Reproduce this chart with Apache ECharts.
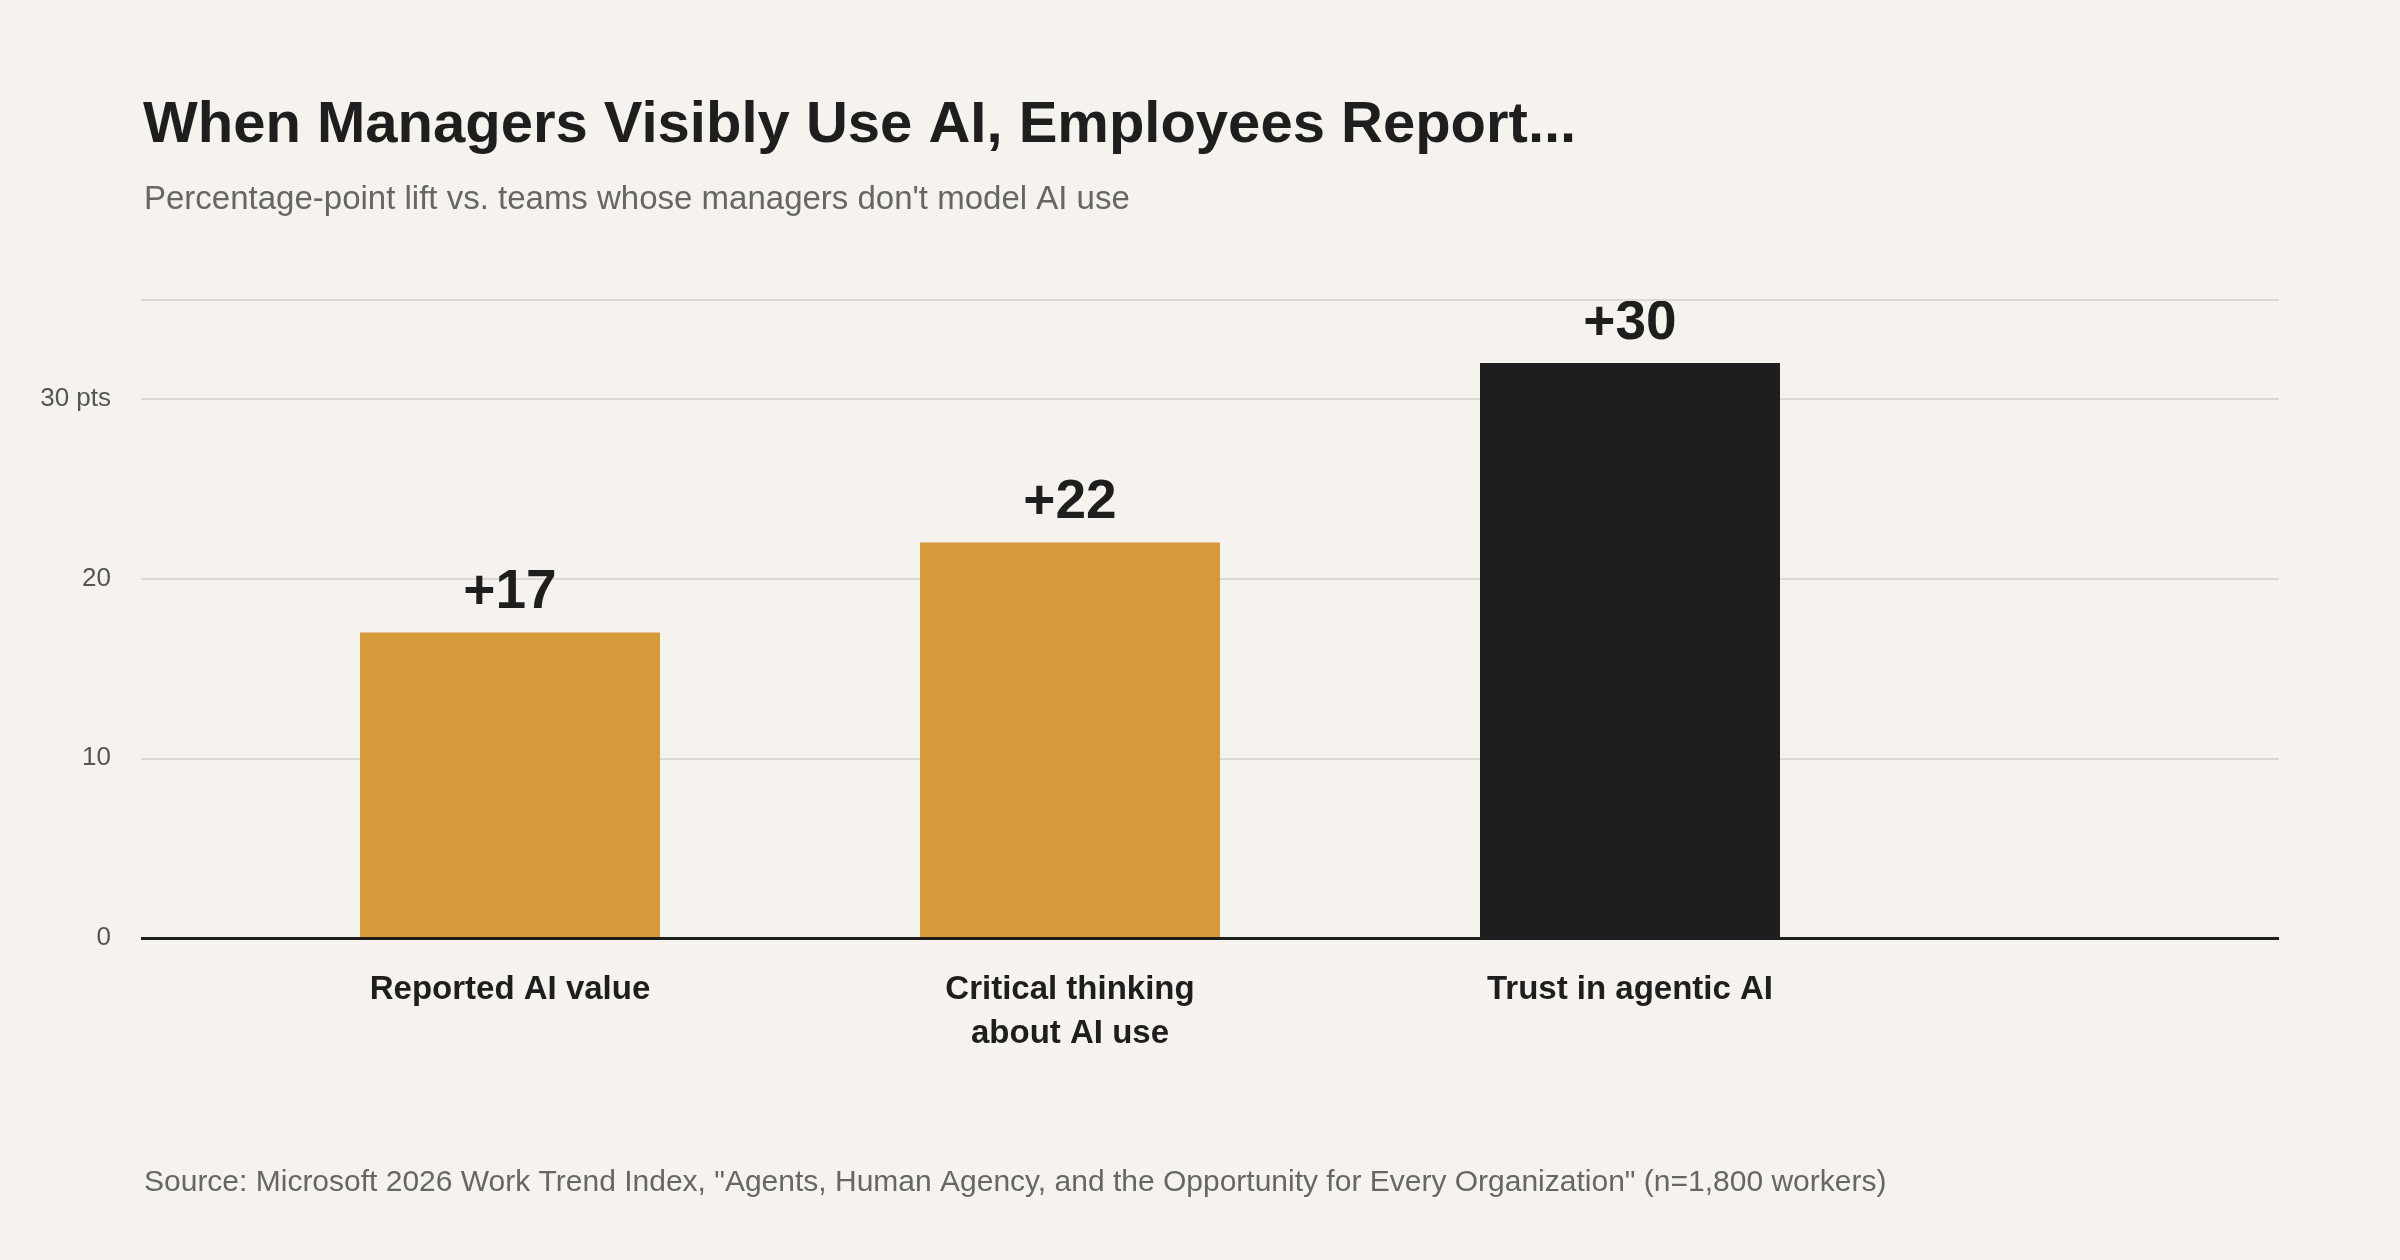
<!DOCTYPE html>
<html><head><meta charset="utf-8">
<script src="https://cdn.jsdelivr.net/npm/echarts@6/dist/echarts.min.js"></script>
<style>html,body{margin:0;background:#F6F3EE}#c{width:2400px;height:1260px}</style>
</head><body><div id="c"></div>
<script>
const categories = ['Reported AI value', 'Critical thinking\nabout AI use', 'Trust in agentic AI'];
const values = [17, 22, 32];
const valueLabels = ['+17', '+22', '+30'];
const barColors = ['#D69A3A', '#D69A3A', '#1E1E1E'];
const yTicks = {0: '0', 10: '10', 20: '20', 30: '30 pts'};
const FONT = 'Liberation Sans, Arial, sans-serif';
const chart = echarts.init(document.getElementById('c'));
chart.setOption({
  backgroundColor: '#F6F3EE',
  textStyle: {fontFamily: FONT},
  title: [
    {text: 'When Managers Visibly Use AI, Employees Report...', left: 138, top: 92,
     textStyle: {fontSize: 58, fontWeight: 'bold', color: '#1E1E1E', fontFamily: FONT}},
    {text: "Percentage-point lift vs. teams whose managers don't model AI use", left: 139, top: 178,
     textStyle: {fontSize: 33, fontWeight: 'normal', color: '#666', fontFamily: FONT}},
    {text: 'Source: Microsoft 2026 Work Trend Index, "Agents, Human Agency, and the Opportunity for Every Organization" (n=1,800 workers)',
     left: 139, top: 1163, textStyle: {fontSize: 30, fontWeight: 'normal', color: '#666', fontFamily: FONT}}
  ],
  grid: [
    {left: 141, right: 121, top: 300, bottom: 322},
    {left: 230, right: 490, top: 300, bottom: 322}
  ],
  xAxis: [
    {gridIndex: 0, type: 'value', min: 0, max: 1, show: false},
    {gridIndex: 1, type: 'category', data: categories,
     axisLine: {show: false}, axisTick: {show: false},
     axisLabel: {fontSize: 33, fontWeight: 'bold', color: '#1E1E1E', margin: 30, lineHeight: 44, fontFamily: FONT}}
  ],
  yAxis: [
    {gridIndex: 0, type: 'value', min: 0, max: 35.5, interval: 10,
     axisLine: {show: false}, axisTick: {show: false},
     splitLine: {lineStyle: {color: '#DCD9D3', width: 2}},
     axisLabel: {fontSize: 26, color: '#555', margin: 30, formatter: v => yTicks[v] ?? '', fontFamily: FONT}},
    {gridIndex: 1, type: 'value', min: 0, max: 35.5, show: false}
  ],
  series: [
    {type: 'line', xAxisIndex: 0, yAxisIndex: 0, data: [], silent: true,
     markLine: {silent: true, symbol: 'none', label: {show: false},
       data: [{yAxis: 35.5, lineStyle: {color: '#DCD9D3', width: 2, type: 'solid'}},
              {yAxis: 0, lineStyle: {color: '#1E1E1E', width: 3, type: 'solid'}}]}},
    {type: 'bar', xAxisIndex: 1, yAxisIndex: 1, barWidth: 300, z: 1,
     data: values.map((v, i) => ({value: v, itemStyle: {color: barColors[i]}})),
     label: {show: true, position: 'top', distance: 12, fontSize: 55, fontWeight: 'bold', color: '#1E1E1E',
       fontFamily: FONT, formatter: p => valueLabels[p.dataIndex]}}
  ]
});
</script></body></html>
